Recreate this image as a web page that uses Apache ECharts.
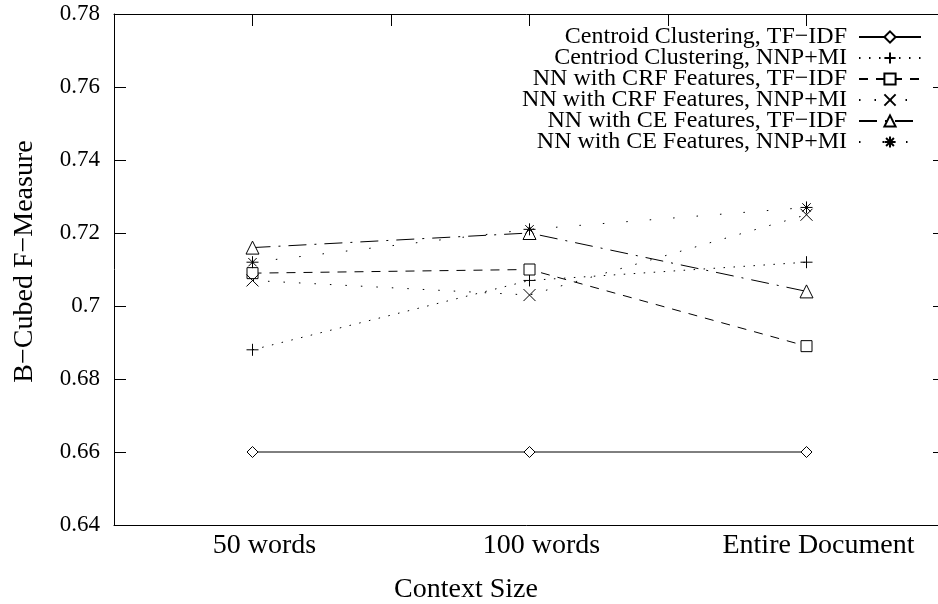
<!DOCTYPE html>
<html>
<head>
<meta charset="utf-8">
<script src="https://cdn.jsdelivr.net/npm/echarts@6/dist/echarts.min.js"></script>
<style>
html,body{margin:0;padding:0;background:#fff;}
#chart{width:938px;height:604px;}
</style>
</head>
<body>
<div id="chart"></div>
<script>
var categories = ['50 words', '100 words', 'Entire Document'];
var yTicks = [0.64, 0.66, 0.68, 0.7, 0.72, 0.74, 0.76, 0.78];
var seriesNames = [
  'Centroid Clustering, TF\u2212IDF',
  'Centriod Clustering, NNP+MI',
  'NN with CRF Features, TF\u2212IDF',
  'NN with CRF Features, NNP+MI',
  'NN with CE Features, TF\u2212IDF',
  'NN with CE Features, NNP+MI'
];
var centroidTfidf = [0.660, 0.660, 0.660];
var centroidNnp   = [0.688, 0.707, 0.712];
var crfTfidf      = [0.709, 0.710, 0.689];
var crfNnp        = [0.707, 0.703, 0.725];
var ceTfidf       = [0.716, 0.720, 0.704];
var ceNnp         = [0.712, 0.721, 0.727];

var FONT = 'Liberation Serif';
var values = [centroidTfidf, centroidNnp, crfTfidf, crfNnp, ceTfidf, ceNnp];
var symbols = [
  'diamond',
  'path://M0,5L10,5M5,0L5,10',
  'rect',
  'path://M0,0L10,10M0,10L10,0',
  'triangle',
  'path://M0,5L10,5M5,0L5,10M1.5,1.5L8.5,8.5M1.5,8.5L8.5,1.5'
];
var symbolSizes = [11, 12, 11, 12, 13, 12];
var dashes = ['solid', [1.5, 8.5], [9, 8], [1.5, 14], [18, 8, 2, 8], [1.5, 22]];

var series = values.map(function (v, i) {
  return {
    name: seriesNames[i],
    type: 'line',
    data: v,
    symbol: symbols[i],
    symbolSize: symbolSizes[i],
    showAllSymbol: true,
    lineStyle: { color: '#000', width: 1, type: dashes[i] },
    itemStyle: { color: '#fff', borderColor: '#000', borderWidth: 1 },
    emphasis: { disabled: true },
    z: 3 + i
  };
});

var chart = echarts.init(document.getElementById('chart'), null, { renderer: 'canvas' });
chart.setOption({
  animation: false,
  backgroundColor: '#fff',
  textStyle: { fontFamily: FONT },
  grid: { left: 114, top: 14, width: 831, height: 511, containLabel: false, outerBoundsMode: 'none' },
  legend: {
    orient: 'vertical',
    right: 11,
    top: 20,
    align: 'right',
    itemWidth: 62,
    itemHeight: 14,
    itemGap: -3,
    data: seriesNames,
    textStyle: { fontFamily: FONT, fontSize: 24, color: '#000', lineHeight: 21, padding: [0, 7, 0, 0] }
  },
  xAxis: [
    {
      type: 'category',
      data: categories,
      position: 'bottom',
      boundaryGap: true,
      name: 'Context Size',
      nameLocation: 'middle',
      nameGap: 51,
      nameTextStyle: { fontFamily: FONT, fontSize: 28, color: '#000', padding: [0, 127, 0, 0] },
      axisLine: { onZero: false, lineStyle: { color: '#000', width: 1 } },
      axisTick: { alignWithLabel: true, inside: true, length: 12, lineStyle: { color: '#000' } },
      axisLabel: { fontFamily: FONT, fontSize: 28, color: '#000', margin: 7, padding: [0, 0, 0, 24] },
      splitLine: { show: false }
    },
    {
      type: 'value',
      position: 'top',
      min: -0.5,
      max: 2.5,
      interval: 0.5,
      axisLine: { onZero: false, lineStyle: { color: '#000', width: 1 } },
      axisTick: { inside: true, length: 12, lineStyle: { color: '#000' } },
      axisLabel: { show: false },
      splitLine: { show: false }
    }
  ],
  yAxis: [
    {
      type: 'value',
      min: 0.64,
      max: 0.78,
      interval: 0.02,
      name: 'B\u2212Cubed F\u2212Measure',
      nameLocation: 'middle',
      nameGap: 75,
      nameRotate: 90,
      nameTextStyle: { fontFamily: FONT, fontSize: 28, color: '#000', padding: [0, 0, 0, 16] },
      axisLine: { show: true, onZero: false, lineStyle: { color: '#000', width: 1 } },
      axisTick: { show: true, inside: true, length: 12, lineStyle: { color: '#000' } },
      axisLabel: {
        fontFamily: FONT, fontSize: 23, color: '#000', margin: 14,
        formatter: function (val) {
          var best = yTicks.reduce(function (a, b) { return Math.abs(b - val) < Math.abs(a - val) ? b : a; });
          return String(best);
        }
      },
      splitLine: { show: false }
    },
    {
      type: 'value',
      position: 'right',
      min: 0.64,
      max: 0.78,
      interval: 0.02,
      axisLine: { show: true, onZero: false, lineStyle: { color: '#000', width: 1 } },
      axisTick: { show: true, inside: true, length: 12, lineStyle: { color: '#000' } },
      axisLabel: { show: false },
      splitLine: { show: false }
    }
  ],
  series: series
});
</script>
</body>
</html>
